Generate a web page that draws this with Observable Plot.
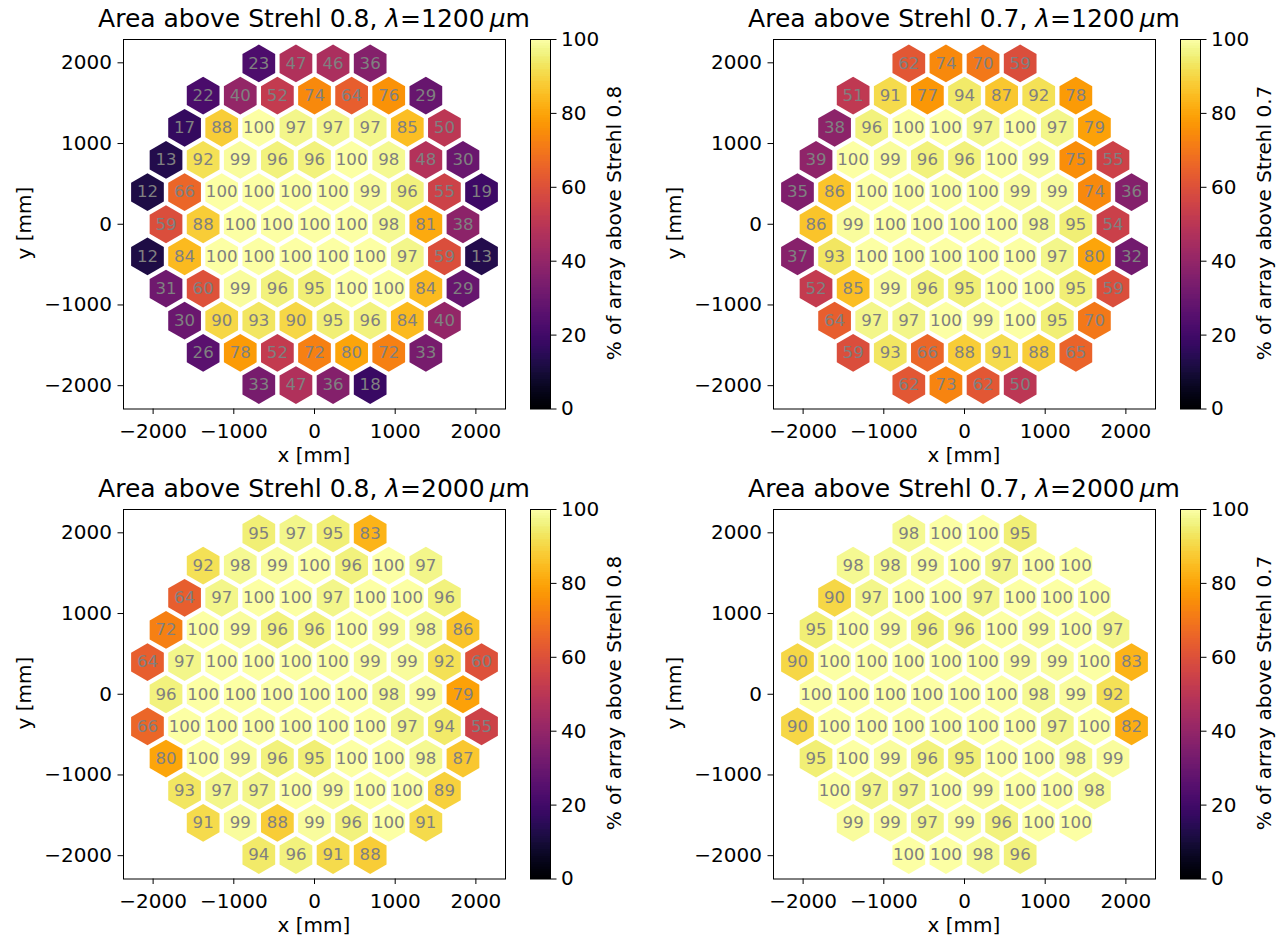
<!DOCTYPE html>
<html><head><meta charset="utf-8">
<script src="https://cdn.jsdelivr.net/npm/d3@7"></script>
<script src="https://cdn.jsdelivr.net/npm/@observablehq/plot@0.6"></script>
<style>
body{margin:0;background:#fff;font-family:"DejaVu Sans",sans-serif;}
#fig{position:relative;width:1286px;height:939px;overflow:hidden;background:#fff;}
.abs{position:absolute;white-space:nowrap;color:#000;line-height:1.164;}
.title{font-size:25px;transform:translate(-50%,-50%);}
.lab{font-size:20px;transform:translate(-50%,-50%);}
.rot{font-size:20px;transform:translate(-50%,-50%) rotate(-90deg);}
.it{font-style:italic;}
#fig svg{position:absolute;overflow:visible;}
</style></head><body><div id="fig"></div><script>
// ---- data (row by row, top row first, left to right) ----
const rowCounts = [4, 7, 8, 9, 10, 9, 10, 9, 8, 7, 4];
const strehl08_1200 = [
  [23,47,46,36],
  [22,40,52,74,64,76,29],
  [17,88,100,97,97,97,85,50],
  [13,92,99,96,96,100,98,48,30],
  [12,66,100,100,100,100,99,96,55,19],
  [59,88,100,100,100,100,98,81,38],
  [12,84,100,100,100,100,100,97,59,13],
  [31,60,99,96,95,100,100,84,29],
  [30,90,93,90,95,96,84,40],
  [26,78,52,72,80,72,33],
  [33,47,36,18]
];
const strehl07_1200 = [
  [62,74,70,59],
  [51,91,77,94,87,92,78],
  [38,96,100,100,97,100,97,79],
  [39,100,99,96,96,100,99,75,55],
  [35,86,100,100,100,100,99,99,74,36],
  [86,99,100,100,100,100,98,95,54],
  [37,93,100,100,100,100,100,97,80,32],
  [52,85,99,96,95,100,100,95,59],
  [64,97,97,100,99,100,95,70],
  [59,93,66,88,91,88,65],
  [62,73,62,50]
];
const strehl08_2000 = [
  [95,97,95,83],
  [92,98,99,100,96,100,97],
  [64,97,100,100,97,100,100,96],
  [72,100,99,96,96,100,99,98,86],
  [64,97,100,100,100,100,99,99,92,60],
  [96,100,100,100,100,100,98,99,79],
  [66,100,100,100,100,100,100,97,94,55],
  [80,100,99,96,95,100,100,98,87],
  [93,97,97,100,99,100,100,89],
  [91,99,88,99,96,100,91],
  [94,96,91,88]
];
const strehl07_2000 = [
  [98,100,100,95],
  [98,98,99,100,97,100,100],
  [90,97,100,100,97,100,100,100],
  [95,100,99,96,96,100,99,100,97],
  [90,100,100,100,100,100,99,99,100,83],
  [100,100,100,100,100,100,98,99,92],
  [90,100,100,100,100,100,100,97,100,82],
  [95,100,99,96,95,100,100,98,99],
  [100,97,97,100,99,100,100,98],
  [99,99,97,99,96,100,100],
  [100,100,98,96]
];
const strehlLevels = ["0.8", "0.7", "0.8", "0.7"];
const wavelengths = ["1200", "1200", "2000", "2000"];
const xTicks = [-2000, -1000, 0, 1000, 2000];
const yTicks = [-2000, -1000, 0, 1000, 2000];
const cbTicks = [0, 20, 40, 60, 80, 100];
const xLabel = "x [mm]";
const yLabel = "y [mm]";

// ---- layout ----
const pitch = 460;                       // segment pitch in mm
const rowStep = pitch * Math.sqrt(3) / 2;
const xDomain = [-2367, 2367];
const yDomain = [-2289, 2289];
const FW = 382, FH = 369.5;               // frame size px
const frames = [
  {L: 123, T: 38.5}, {L: 773, T: 38.5},
  {L: 123, T: 508.5}, {L: 773, T: 508.5}
];
const fig = document.getElementById("fig");
const fmt = d => (d < 0 ? "\u2212" + Math.abs(d) : String(d));
const colorScale = {type: "linear", scheme: "inferno", domain: [0, 100]};

function hexData(values) {
  const out = [];
  const nRows = rowCounts.length;
  values.forEach((row, ri) => {
    row.forEach((v, i) => {
      out.push({x: (i - (row.length - 1) / 2) * pitch, y: ((nRows - 1) / 2 - ri) * rowStep, v});
    });
  });
  return out;
}

function addDiv(cls, html, x, y) {
  const d = document.createElement("div");
  d.className = "abs " + cls;
  d.innerHTML = html;
  d.style.left = x + "px";
  d.style.top = y + "px";
  fig.appendChild(d);
}

function mainPanel(values, f) {
  const mL = 80, mR = 10, mT = 10, mB = 40;
  const k = FW / (xDomain[1] - xDomain[0]);
  const data = hexData(values);
  const svg = Plot.plot({
    width: FW + mL + mR, height: FH + mT + mB,
    marginLeft: mL, marginRight: mR, marginTop: mT, marginBottom: mB,
    x: {domain: xDomain}, y: {domain: yDomain},
    color: colorScale,
    style: {fontFamily: "DejaVu Sans", fontSize: "20px", background: "transparent", color: "black"},
    marks: [
      Plot.dot(data, {x: "x", y: "y", fill: "v", symbol: "hexagon", r: pitch / 2 * k - 2.2}),
      Plot.text(data, {x: "x", y: "y", text: d => String(d.v), fill: "#808080", fontSize: 16.6}),
      Plot.frame({stroke: "black"}),
      Plot.axisX(xTicks, {tickSize: 5.5, tickPadding: 9, tickFormat: fmt, label: null, fontSize: 20}),
      Plot.axisY(yTicks, {tickSize: 5.5, tickPadding: 6, tickFormat: fmt, label: null, fontSize: 20})
    ]
  });
  svg.style.left = (f.L - mL) + "px";
  svg.style.top = (f.T - mT) + "px";
  fig.appendChild(svg);
}

function colorbar(f) {
  const cbL = f.L + 406.5, cbW = 20;
  const mL = 1, mR = 60, mT = 10, mB = 10;
  const step = 0.5;
  const steps = d3.range(0, 100, step);
  const svg = Plot.plot({
    width: cbW + mL + mR, height: FH + mT + mB,
    marginLeft: mL, marginRight: mR, marginTop: mT, marginBottom: mB,
    x: {domain: [0, 1], axis: null},
    y: {domain: [0, 100]},
    color: colorScale,
    style: {fontFamily: "DejaVu Sans", fontSize: "20px", background: "transparent", color: "black"},
    marks: [
      Plot.rect(steps, {x1: 0, x2: 1, y1: d => d, y2: d => Math.min(100, d + 2 * step), fill: d => d + step / 2, shapeRendering: "crispEdges"}),
      Plot.frame({stroke: "black"}),
      Plot.axisY(cbTicks, {anchor: "right", tickSize: 5.5, tickPadding: 5, label: null, fontSize: 20})
    ]
  });
  svg.style.left = (cbL - mL) + "px";
  svg.style.top = (f.T - mT) + "px";
  fig.appendChild(svg);
}

const panels = [strehl08_1200, strehl07_1200, strehl08_2000, strehl07_2000];
panels.forEach((vals, i) => {
  const f = frames[i];
  mainPanel(vals, f);
  colorbar(f);
  const cx = f.L + FW / 2, cy = f.T + FH / 2;
  addDiv("title", "Area above Strehl " + strehlLevels[i] + ", <span class='it'>\u03bb</span>=" + wavelengths[i] + "\u2009<span class='it'>\u03bc</span>m", cx, f.T - 19.5);
  addDiv("lab", xLabel, cx, f.T + FH + 47.5);
  addDiv("rot", yLabel, f.L - 98, cy);
  addDiv("rot", "% of array above Strehl " + strehlLevels[i], f.L + 492, cy);
});
</script></body></html>
